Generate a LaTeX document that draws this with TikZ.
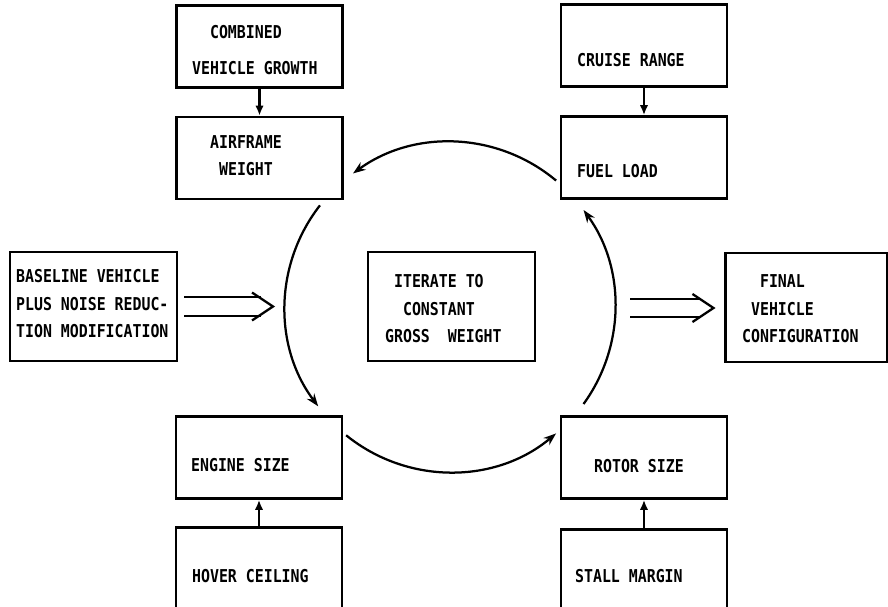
\documentclass[tikz,border=0pt]{standalone}
\usepackage{fontspec}
\setmonofont{DejaVu Sans Mono}[FakeStretch=0.84]
\usetikzlibrary{arrows.meta,positioning}

\begin{document}
\begin{tikzpicture}[x=0.025cm, y=0.025cm, line width=1.6pt,
    box/.style={draw, line width=2pt, minimum width=4.15cm, minimum height=2.05cm},
    tall/.style={box, minimum width=4.17cm, minimum height=2.72cm},
    txt/.style={anchor=base west, align=left, inner sep=0pt,
      font=\ttfamily\bfseries\fontsize{12.6}{19.5}\selectfont},
    feed/.style={-{Latex[length=7pt,width=6pt]}},
    loop/.style={-{Stealth[length=9pt,width=6.5pt]}},
    dbl/.style={double distance=0.4cm, shorten >=0.3cm},
    tip/.style={line join=miter}]
  \useasboundingbox (0,0) rectangle (888,606);
  % loop boxes
  \node[box] (airframe) at (259.5,448) {};
  \node[box, above=0.675cm of airframe] (combined) {};
  \node[box] (fuel) at (644,448.5) {};
  \node[box, above=0.675cm of fuel] (cruise) {};
  \node[box] (engine) at (259,148.5) {};
  \node[box, below=0.65cm of engine] (hover) {};
  \node[box] (rotor) at (644,148.5) {};
  \node[box, below=0.7cm of rotor] (stall) {};
  % middle row
  \node[tall] (baseline) at (93.5,299.5) {};
  \node[tall] (iterate) at (451.5,299.5) {};
  \node[tall, minimum width=4.03cm] (final) at (806.5,298.5) {};
  % texts (base = last line)
  \node[txt] (combined-t) at (191,531.5) {\phantom{XX}COMBINED\\[6pt]VEHICLE GROWTH};
  \node[txt] (airframe-t) at (209,430.5) {AIRFRAME\\\phantom{X}WEIGHT};
  \node[txt] (cruise-t) at (576,539.5) {CRUISE RANGE};
  \node[txt] (fuel-t) at (576,428.5) {FUEL LOAD};
  \node[txt] (baseline-t) at (15,268.5) {BASELINE VEHICLE\\PLUS NOISE REDUC-\\TION MODIFICATION};
  \node[txt] (iterate-t) at (384,263.5) {\phantom{X}ITERATE TO\\\phantom{XX}CONSTANT\\GROSS\ \ WEIGHT};
  \node[txt] (final-t) at (741,263.5) {\phantom{XX}FINAL\\\phantom{X}VEHICLE\\CONFIGURATION};
  \node[txt] (engine-t) at (190,134.5) {ENGINE SIZE};
  \node[txt] (hover-t) at (191,23.5) {HOVER CEILING};
  \node[txt] (rotor-t) at (593,133.5) {ROTOR SIZE};
  \node[txt] (stall-t) at (574,23.5) {STALL MARGIN};
  % inputs
  \draw[feed] (combined) -- (airframe);
  \draw[feed] (cruise) -- (fuel);
  \draw[feed] (hover) -- (engine);
  \draw[feed] (stall) -- (rotor);
  % iteration loop
  \coordinate (hub) at (450,299);
  \foreach \a/\b in {50/126, 142/217, 231/310, 324/396}
    \draw[loop] ([shift={(\a:4.125cm)}]hub) arc[start angle=\a, end angle=\b, radius=4.125cm];
  % in and out
  \coordinate (inL) at (273,299.5);
  \coordinate (outR) at (630,298);
  \coordinate (outTip) at ([xshift=-0.275cm,yshift=-0.0125cm]final.west);
  \draw[dbl, shorten <=0.15cm] (baseline.east) -- (inL);
  \draw[tip] (inL) ++(-21,14) -- (inL) -- ++(-21,-14);
  \draw[dbl] (outR) -- (outTip);
  \draw[tip] (outTip) ++(-21,14) -- (outTip) -- ++(-21,-14);
\end{tikzpicture}
\end{document}
